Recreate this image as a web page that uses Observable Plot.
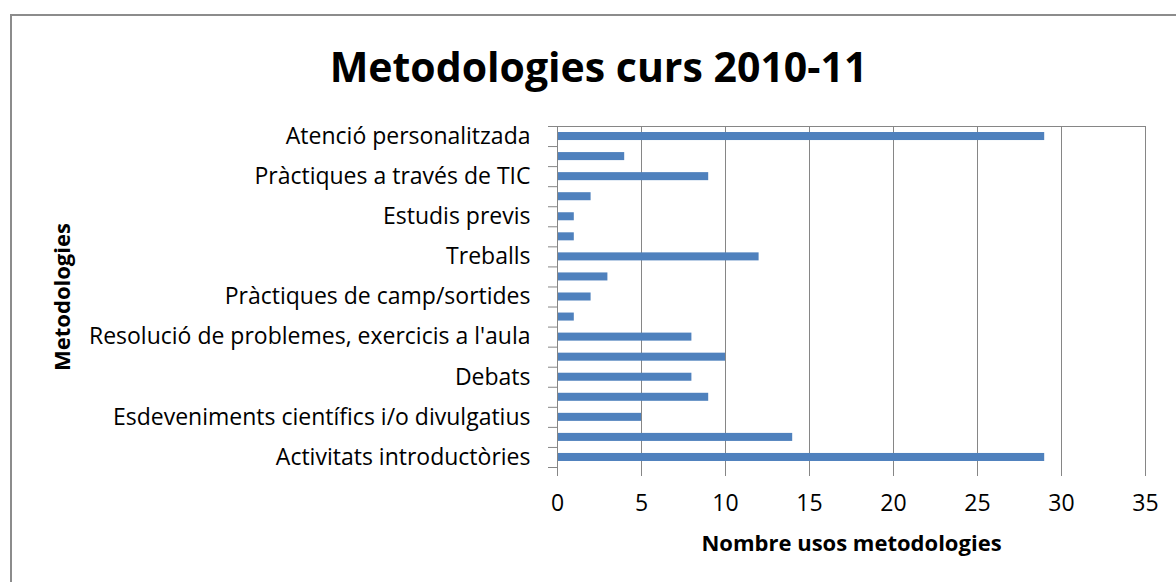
<!DOCTYPE html>
<html>
<head>
<meta charset="utf-8">
<script src="https://cdn.jsdelivr.net/npm/d3@7"></script>
<script src="https://cdn.jsdelivr.net/npm/@observablehq/plot@0.6"></script>
<style>
  html, body { margin: 0; padding: 0; background: #fff; overflow: hidden; }
  #wrap { position: relative; width: 1176px; height: 582px; }
  #frame { position: absolute; left: 10px; top: 14px; width: 1200px; height: 600px; border: 2px solid #8c8c8c; box-sizing: border-box; }
  #chart { position: absolute; left: 0; top: 0; }
</style>
</head>
<body>
<div id="wrap"><div id="frame"></div><div id="chart"></div></div>
<script>
// Categories listed top to bottom ("" = label not shown in the original)
const categories = [
  "Atenció personalitzada",
  "",
  "Pràctiques a través de TIC",
  "",
  "Estudis previs",
  "",
  "Treballs",
  "",
  "Pràctiques de camp/sortides",
  "",
  "Resolució de problemes, exercicis a l'aula",
  "",
  "Debats",
  "",
  "Esdeveniments científics i/o divulgatius",
  "",
  "Activitats introductòries"
];
const values = [29, 4, 9, 2, 1, 1, 12, 3, 2, 1, 8, 10, 8, 9, 5, 14, 29];
const xTicks = [0, 5, 10, 15, 20, 25, 30, 35];
const title = "Metodologies curs 2010-11";
const xTitle = "Nombre usos metodologies";
const yTitle = "Metodologies";

const data = values.map((v, i) => ({i, v, label: categories[i]}));
const centers = categories.map((_, i) => i);
const boundaries = d3.range(-0.5, categories.length, 1);

const font = "'Open Sans', sans-serif";
const barHalf = 0.2;

const chart = Plot.plot({
  width: 1176,
  height: 582,
  marginLeft: 557,
  marginRight: 31,
  marginTop: 126,
  marginBottom: 115,
  style: {fontFamily: font, background: "transparent", color: "#000"},
  x: {domain: [0, 35]},
  y: {domain: [-0.5, categories.length - 0.5], reverse: true},
  marks: [
    Plot.gridX(xTicks, {stroke: "#868686", strokeOpacity: 1, strokeWidth: 1}),
    Plot.rectX(data, {x1: 0, x2: "v", y1: d => d.i - barHalf, y2: d => d.i + barHalf, fill: "#4f81bd"}),
    Plot.ruleX([0], {stroke: "#868686"}),
    Plot.ruleY([-0.5], {stroke: "#868686"}),
    Plot.axisX({ticks: xTicks, tickSize: 9, stroke: "#868686", tickPadding: 18, fontSize: 23, label: null, tickFormat: d => d}),
    Plot.axisY({ticks: boundaries, tickSize: 9, stroke: "#868686", tickFormat: () => "", label: null}),
    Plot.axisY({ticks: centers, tickSize: 0, tickPadding: 27, fontSize: 23, label: null, tickFormat: i => categories[i]}),
    Plot.text([title], {frameAnchor: "top", dx: -253, dy: -74, fontSize: 41, fontWeight: "bold", fill: "#000"}),
    Plot.text([xTitle], {frameAnchor: "bottom", dy: 83, fontSize: 22, fontWeight: "bold", fill: "#000"}),
    Plot.text([yTitle], {frameAnchor: "left", dx: -495, rotate: -90, textAnchor: "middle", fontSize: 22, fontWeight: "bold", fill: "#000"})
  ]
});
document.getElementById("chart").appendChild(chart);
</script>
</body>
</html>
